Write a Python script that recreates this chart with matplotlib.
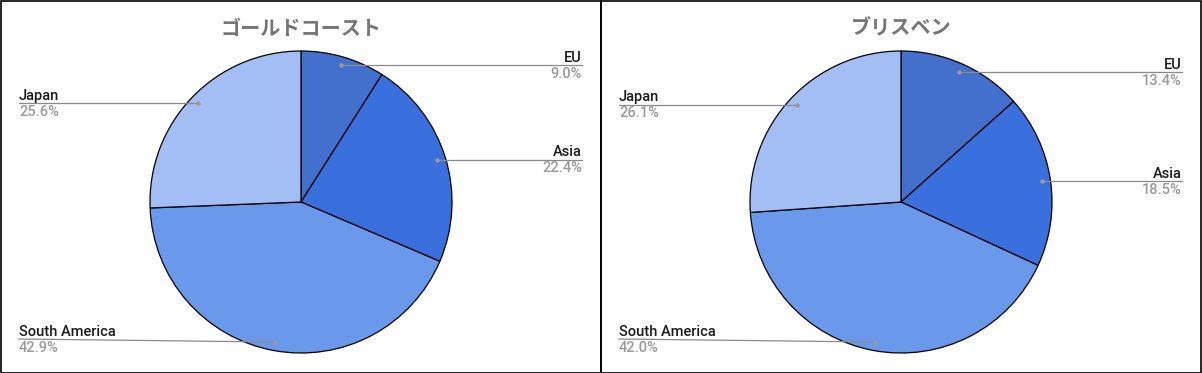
import matplotlib
matplotlib.use("Agg")
import matplotlib.pyplot as plt
import numpy as np
from matplotlib.patches import Rectangle

titles = ["ゴールドコースト", "ブリスベン"]
categories = ["EU", "Asia", "South America", "Japan"]
values_gc = [9.0, 22.4, 42.9, 25.6]
values_bn = [13.4, 18.5, 42.0, 26.1]
colors = ["#4470CD", "#3A70DE", "#6A98EB", "#A2BEF4"]

W, H = 1202, 373
fig = plt.figure(figsize=(W / 100, H / 100), dpi=100)
lab_font = ["Roboto", "Liberation Sans", "DejaVu Sans"]

panel_w = 601
for i, (title, vals) in enumerate([(titles[0], values_gc), (titles[1], values_bn)]):
    x0 = i * 600
    ax = fig.add_axes([x0 / W, 0, panel_w / W, 1])
    cx, cy, r = 301, H - 202, 151
    ax.pie(vals, colors=colors, startangle=90, counterclock=False,
           radius=r, center=(cx, cy), frame=True,
           wedgeprops=dict(edgecolor="black", linewidth=0.9))
    ax.set_xlim(0, panel_w)
    ax.set_ylim(0, H)
    ax.axis("off")
    ax.text(cx, H - 28, title, ha="center", va="center", fontsize=14.5,
            fontweight="bold", color="#757575", family=["Noto Sans CJK JP", "DejaVu Sans"])
    total = sum(vals)
    start = 90.0
    for cat, v in zip(categories, vals):
        ang = start - v / total * 360 / 2
        start -= v / total * 360
        a = np.deg2rad(ang)
        px = cx + 0.943 * r * np.cos(a)
        py = cy + 0.943 * r * np.sin(a)
        ly = min(max(py, H - 339), H - 60)
        right = np.cos(a) >= 0
        lx = 582 if right else 19
        ax.plot([lx, px], [ly, py], color="#8a8a8a", lw=0.9, zorder=5)
        ax.plot([px], [py], "o", color="#9a9a9a", ms=3.2, zorder=6, mec="none")
        ha = "right" if right else "left"
        ax.text(lx, ly + 7.5, cat, ha=ha, va="center", fontsize=10.5, color="#1a1a1a",
                fontweight="medium", family=lab_font)
        ax.text(lx, ly - 8.5, f"{v:.1f}%", ha=ha, va="center", fontsize=10.5, color="#9a9a9a",
                fontweight="medium", family=lab_font)

# panel borders
fig.patches.append(Rectangle((0.5 / W, 0.5 / H), 600 / W, (H - 1.5) / H, transform=fig.transFigure,
                             fill=False, edgecolor="black", lw=1.2))
fig.patches.append(Rectangle((600.5 / W, 0.5 / H), (W - 601.5) / W, (H - 1.5) / H, transform=fig.transFigure,
                             fill=False, edgecolor="black", lw=1.2))

fig.savefig("out.png", dpi=100)
